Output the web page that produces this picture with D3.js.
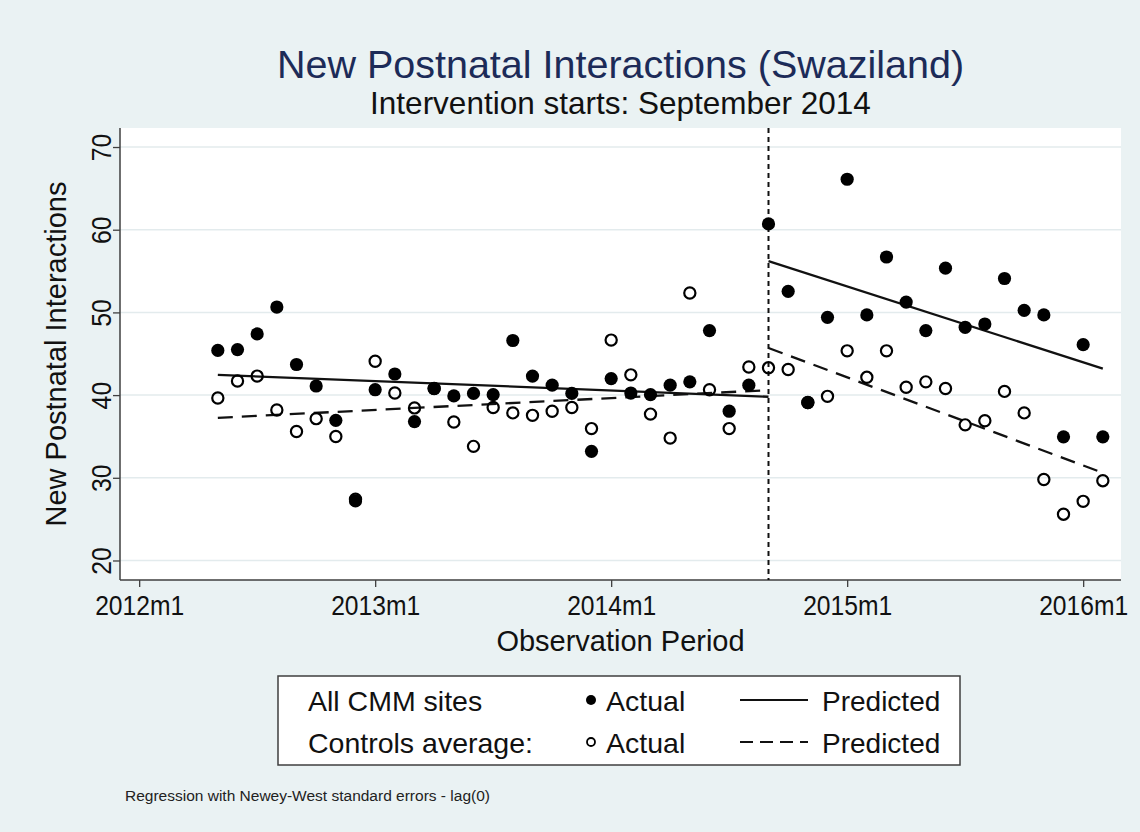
<!DOCTYPE html>
<html>
<head>
<meta charset="utf-8">
<script src="https://cdn.jsdelivr.net/npm/d3@7"></script>
<style>
  html, body { margin: 0; padding: 0; background: #eaf2f3; }
  svg { display: block; font-family: "Liberation Sans", Arial, Helvetica, sans-serif; }
</style>
</head>
<body>
<svg id="chart" width="1140" height="832"></svg>
<script>
// Monthly observations, Stata-style %tm labels
const months = [
  "2012m5","2012m6","2012m7","2012m8","2012m9","2012m10","2012m11","2012m12",
  "2013m1","2013m2","2013m3","2013m4","2013m5","2013m6","2013m7","2013m8","2013m9","2013m10","2013m11","2013m12",
  "2014m1","2014m2","2014m3","2014m4","2014m5","2014m6","2014m7","2014m8","2014m9","2014m10","2014m11","2014m12",
  "2015m1","2015m2","2015m3","2015m4","2015m5","2015m6","2015m7","2015m8","2015m9","2015m10","2015m11","2015m12",
  "2016m1","2016m2"
];

// All CMM sites, actual monthly counts
const cmmActual = [
  45.4, 45.5, 47.4, 50.65, 43.7, 41.1, 36.95, 27.2,
  40.65, 42.55, 36.8, 40.8, 39.9, 40.2, 40.05, 46.6, 42.3, 41.2, 40.2, 33.2,
  42.0, 40.25, 40.05, 41.2, 41.6, 47.8, 38.05, 41.2, 60.7, 52.55, 39.1, 49.4,
  66.1, 49.7, 56.7, 51.25, 47.8, 55.35, 48.2, 48.6, 54.1, 50.25, 49.7, 34.95,
  46.1, 34.95
];

// Controls average, actual monthly counts
const controlsActual = [
  39.65, 41.7, 42.3, 38.2, 35.6, 37.15, 35.0, 27.4,
  44.1, 40.25, 38.45, 40.8, 36.75, 33.8, 38.5, 37.85, 37.55, 38.05, 38.5, 35.95,
  46.65, 42.45, 37.7, 34.8, 52.35, 40.65, 35.95, 43.4, 43.3, 43.1, 39.1, 39.85,
  45.35, 42.15, 45.35, 40.95, 41.6, 40.8, 36.4, 36.9, 40.45, 37.85, 29.8, 25.6,
  27.15, 29.65
];

// Segmented regression fits: [start, end] of each segment
const preSpan = ["2012m5", "2014m9"];
const postSpan = ["2014m9", "2016m2"];
const cmmPredPre = [42.45, 39.8];
const cmmPredPost = [56.2, 43.2];
const controlsPredPre = [37.25, 40.6];
const controlsPredPost = [45.7, 30.6];

const interventionMonth = "2014m9";

const xTicks = ["2012m1", "2013m1", "2014m1", "2015m1", "2016m1"];
const yTicks = [20, 30, 40, 50, 60, 70];

// --- helpers ---
const monthIndex = s => { const [y, m] = s.split("m").map(Number); return (y - 2012) * 12 + (m - 1); };
const monthLabel = i => `${2012 + Math.floor(i / 12)}m${(i % 12) + 1}`;

const svg = d3.select("#chart");
const W = 1140, H = 832;
const plot = { left: 120, right: 1121, top: 128, bottom: 580 };

svg.append("rect").attr("width", W).attr("height", H).attr("fill", "#eaf2f3");
svg.append("rect")
  .attr("x", plot.left).attr("y", plot.top)
  .attr("width", plot.right - plot.left).attr("height", plot.bottom - plot.top)
  .attr("fill", "#ffffff");

const x = d3.scaleLinear().domain([-1, 50]).range([119.5, 1122.5]);
const y = d3.scaleLinear().domain([17.64, 72.3]).range([plot.bottom, plot.top]);

// gridlines
svg.append("g")
  .selectAll("line")
  .data(yTicks)
  .join("line")
  .attr("x1", plot.left).attr("x2", plot.right)
  .attr("y1", d => y(d)).attr("y2", d => y(d))
  .attr("stroke", "#e3ebed").attr("stroke-width", 1.5);

// y axis
const yAxis = svg.append("g")
  .attr("transform", `translate(${plot.left},0)`)
  .call(d3.axisLeft(y).tickValues(yTicks).tickSize(7).tickSizeOuter(0));
yAxis.select(".domain").attr("stroke", "#3f3f3f").attr("stroke-width", 1.5)
  .attr("d", `M0,${plot.top}V${plot.bottom}`);
yAxis.selectAll(".tick line").attr("stroke", "#3f3f3f").attr("stroke-width", 1.3);
yAxis.selectAll(".tick text")
  .attr("fill", "#111")
  .attr("font-size", 27)
  .attr("font-family", "Liberation Sans, Arial, sans-serif")
  .attr("text-anchor", "middle")
  .attr("x", 0).attr("y", -9).attr("dy", 0)
  .attr("transform", "rotate(-90) scale(0.92,1)");

// x axis
const xAxis = svg.append("g")
  .attr("transform", `translate(0,${plot.bottom})`)
  .call(d3.axisBottom(x).tickValues(xTicks.map(monthIndex)).tickFormat(monthLabel).tickSize(7).tickSizeOuter(0));
xAxis.select(".domain").attr("stroke", "#3f3f3f").attr("stroke-width", 1.5)
  .attr("d", `M${plot.left},0H${plot.right}`);
xAxis.selectAll(".tick line").attr("stroke", "#3f3f3f").attr("stroke-width", 1.3);
xAxis.selectAll(".tick text")
  .attr("fill", "#111")
  .attr("font-size", 28)
  .attr("font-family", "Liberation Sans, Arial, sans-serif")
  .attr("y", 11).attr("dy", "0.85em")
  .attr("transform", function () {
    const t = d3.select(this.parentNode).attr("transform");
    return "scale(0.88,1)";
  });

// axis titles
svg.append("text")
  .attr("x", (plot.left + plot.right) / 2).attr("y", 651)
  .attr("text-anchor", "middle").attr("font-size", 29).attr("fill", "#111")
  .text("Observation Period");
svg.append("text")
  .attr("transform", `translate(66,${(plot.top + plot.bottom) / 2}) rotate(-90)`)
  .attr("text-anchor", "middle").attr("font-size", 29).attr("fill", "#111")
  .text("New Postnatal Interactions");

// titles
svg.append("text")
  .attr("x", (plot.left + plot.right) / 2).attr("y", 78)
  .attr("text-anchor", "middle").attr("font-size", 39.5).attr("fill", "#1c2b58")
  .text("New Postnatal Interactions (Swaziland)");
svg.append("text")
  .attr("x", (plot.left + plot.right) / 2).attr("y", 114)
  .attr("text-anchor", "middle").attr("font-size", 31.5).attr("fill", "#111")
  .text("Intervention starts: September 2014");

// intervention line
svg.append("line")
  .attr("x1", x(monthIndex(interventionMonth))).attr("x2", x(monthIndex(interventionMonth)))
  .attr("y1", plot.top).attr("y2", plot.bottom)
  .attr("stroke", "#111").attr("stroke-width", 2).attr("stroke-dasharray", "5,4");

// predicted lines
const segLine = d3.line().x(d => x(d[0])).y(d => y(d[1]));
const segment = (span, vals) => span.map((s, i) => [monthIndex(s), vals[i]]);
const predGroup = svg.append("g").attr("fill", "none").attr("stroke", "#111").attr("stroke-width", 2.3);
predGroup.append("path").attr("d", segLine(segment(preSpan, cmmPredPre)));
predGroup.append("path").attr("d", segLine(segment(postSpan, cmmPredPost)));
predGroup.append("path").attr("d", segLine(segment(preSpan, controlsPredPre))).attr("stroke-dasharray", "15,9");
predGroup.append("path").attr("d", segLine(segment(postSpan, controlsPredPost))).attr("stroke-dasharray", "15,9");

// actual markers
const mi = months.map(monthIndex);
svg.append("g").selectAll("circle")
  .data(cmmActual.map((v, i) => [mi[i], v]))
  .join("circle")
  .attr("cx", d => x(d[0])).attr("cy", d => y(d[1])).attr("r", 6.6)
  .attr("fill", "#000");
svg.append("g").selectAll("circle")
  .data(controlsActual.map((v, i) => [mi[i], v]))
  .join("circle")
  .attr("cx", d => x(d[0])).attr("cy", d => y(d[1])).attr("r", 5.6)
  .attr("fill", "none").attr("stroke", "#000").attr("stroke-width", 2.2);

// legend
const lg = svg.append("g");
lg.append("rect").attr("x", 278).attr("y", 676).attr("width", 682).attr("height", 89)
  .attr("fill", "#fff").attr("stroke", "#3f3f3f").attr("stroke-width", 1.5);
const legendRows = [
  { label: "All CMM sites", filled: true, dash: null, y: 711 },
  { label: "Controls average:", filled: false, dash: "13,7", y: 753 }
];
legendRows.forEach(r => {
  lg.append("text").attr("x", 308).attr("y", r.y).attr("font-size", 28.5).attr("fill", "#111").text(r.label);
  lg.append("circle").attr("cx", 591).attr("cy", r.y - 11).attr("r", r.filled ? 5 : 4)
    .attr("fill", r.filled ? "#000" : "none").attr("stroke", "#000").attr("stroke-width", r.filled ? 0 : 1.8);
  lg.append("text").attr("x", 606).attr("y", r.y).attr("font-size", 28.5).attr("fill", "#111").text("Actual");
  lg.append("line").attr("x1", 740).attr("x2", 808).attr("y1", r.y - 11).attr("y2", r.y - 11)
    .attr("stroke", "#111").attr("stroke-width", 2).attr("stroke-dasharray", r.dash);
  lg.append("text").attr("x", 822).attr("y", r.y).attr("font-size", 28).attr("fill", "#111").text("Predicted");
});

// note
svg.append("text").attr("x", 125).attr("y", 801).attr("font-size", 15.5).attr("fill", "#222")
  .text("Regression with Newey-West standard errors - lag(0)");
</script>
</body>
</html>
